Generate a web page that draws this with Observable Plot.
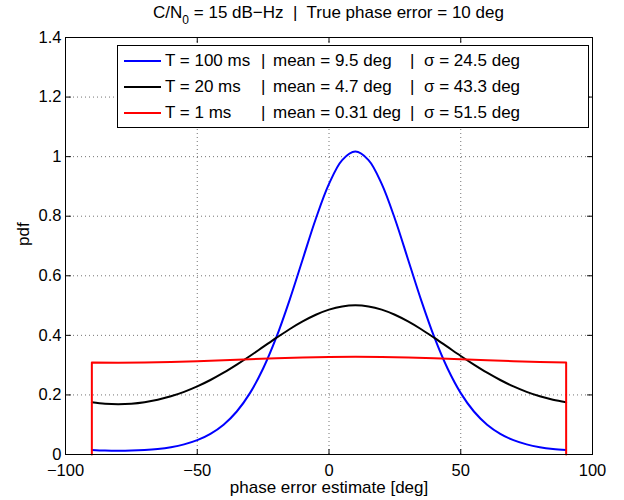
<!DOCTYPE html>
<html><head><meta charset="utf-8">
<script src="https://cdn.jsdelivr.net/npm/d3@7"></script>
<script src="https://cdn.jsdelivr.net/npm/@observablehq/plot@0.6"></script>
<style>
html,body{margin:0;padding:0;background:#fff;}
#wrap{position:relative;width:624px;height:500px;font-family:"Liberation Sans",Arial,Helvetica,sans-serif;color:#000;overflow:hidden;}
#chart{position:absolute;left:0;top:0;}
#title{position:absolute;left:65px;width:527px;top:3px;text-align:center;font-size:17px;line-height:20px;white-space:pre;}
#title .sub{font-size:12px;vertical-align:-6px;}
#legend{position:absolute;left:117px;top:45px;width:472px;height:83px;box-sizing:border-box;border:1px solid #000;background:#fff;font-size:17px;}
.row{position:absolute;left:0;height:26px;line-height:26px;width:100%;white-space:pre;}
.row span{position:absolute;top:0;}
.row svg{position:absolute;top:0;}
</style></head>
<body><div id="wrap"><div id="chart"></div><div id="title"></div><div id="legend"></div></div>
<script>
// ---- data ----
const phase5 = [-90,-85,-80,-75,-70,-65,-60,-55,-50,-45,-40,-35,-30,-25,-20,-15,-10,-5,0,5,10,15,20,25,30,35,40,45,50,55,60,65,70,75,80,85,90];
const pdf100ms = [0.0151,0.0131,0.0125,0.0131,0.0151,0.0187,0.0247,0.0340,0.0481,0.0694,0.1001,0.1444,0.2061,0.2887,0.3930,0.5176,0.6548,0.7914,0.9084,0.9884,1.0169,0.9884,0.9084,0.7914,0.6548,0.5176,0.3930,0.2887,0.2061,0.1444,0.1001,0.0694,0.0481,0.0340,0.0247,0.0187,0.0151];
const pdf20ms = [0.1757,0.1707,0.1691,0.1707,0.1757,0.1839,0.1954,0.2103,0.2286,0.2501,0.2746,0.3018,0.3308,0.3611,0.3914,0.4205,0.4467,0.4691,0.4863,0.4972,0.5009,0.4972,0.4863,0.4691,0.4467,0.4205,0.3914,0.3611,0.3308,0.3018,0.2746,0.2501,0.2286,0.2103,0.1954,0.1839,0.1757];
const phase1ms = [-90,-90,-80,-70,-60,-50,-40,-30,-20,-10,0,10,20,30,40,50,60,70,80,90,90];
const pdf1ms = [0,0.3090,0.3084,0.3090,0.3107,0.3133,0.3165,0.3200,0.3233,0.3260,0.3277,0.3283,0.3277,0.3260,0.3233,0.3200,0.3165,0.3133,0.3107,0.3090,0];
const xTicks = [-100,-50,0,50,100];
const yTicks = [0,0.2,0.4,0.6,0.8,1,1.2,1.4];
const seriesColors = ["#0000ff","#000000","#ff0000"];
const legendT = ["T = 100 ms","T = 20 ms","T = 1 ms"];
const legendMean = ["mean = 9.5 deg","mean = 4.7 deg","mean = 0.31 deg"];
const legendSigma = ["\u03c3 = 24.5 deg","\u03c3 = 43.3 deg","\u03c3 = 51.5 deg"];
const titleMain = "C/N", titleSub = "0", titleRest = " = 15 dB\u2212Hz  |  True phase error = 10 deg";
const xLabel = "phase error estimate [deg]";
const yLabel = "pdf";

// ---- tables ----
const t100 = phase5.map((x,i)=>({x, y: pdf100ms[i]}));
const t20 = phase5.map((x,i)=>({x, y: pdf20ms[i]}));
const t1 = phase1ms.map((x,i)=>({x, y: pdf1ms[i]}));

const FONT = '"Liberation Sans",Arial,Helvetica,sans-serif';
const fmtX = d => d < 0 ? "\u2212" + (-d) : String(d);
const fmtY = d => String(d);
const tickShape = {draw(context, l) { context.moveTo(0, 0); context.lineTo(0, -l); }};
const tickOpts = {length: 5, anchor: "start", shape: tickShape, stroke: "black", strokeWidth: 1};
const gridOpts = {stroke: "#000", strokeOpacity: 0.55, strokeDasharray: "1,3", strokeWidth: 1};

const chart = Plot.plot({
  width: 624, height: 500,
  marginLeft: 65, marginRight: 32, marginTop: 37, marginBottom: 46,
  style: {fontFamily: FONT, fontSize: "16.5px", background: "white", color: "black"},
  x: {domain: [-100, 100]},
  y: {domain: [0, 1.4]},
  marks: [
    Plot.gridX(xTicks, gridOpts),
    Plot.gridY(yTicks, gridOpts),
    Plot.line(t100, {x: "x", y: "y", stroke: seriesColors[0], strokeWidth: 2, curve: "catmull-rom"}),
    Plot.line(t20, {x: "x", y: "y", stroke: seriesColors[1], strokeWidth: 2, curve: "catmull-rom"}),
    Plot.line(t1, {x: "x", y: "y", stroke: seriesColors[2], strokeWidth: 2, curve: "linear"}),
    Plot.frame({stroke: "black", strokeWidth: 1}),
    Plot.vector(xTicks, {x: d => d, frameAnchor: "bottom", rotate: 0, ...tickOpts}),
    Plot.vector(xTicks, {x: d => d, frameAnchor: "top", rotate: 180, ...tickOpts}),
    Plot.vector(yTicks, {y: d => d, frameAnchor: "left", rotate: 90, ...tickOpts}),
    Plot.vector(yTicks, {y: d => d, frameAnchor: "right", rotate: -90, ...tickOpts}),
    Plot.axisX(xTicks, {tickSize: 0, tickPadding: 10, tickFormat: fmtX, label: null, fontSize: 16.5}),
    Plot.axisY(yTicks, {tickSize: 0, tickPadding: 4, tickFormat: fmtY, label: null, fontSize: 16.5}),
    Plot.text([xLabel], {text: d => d, frameAnchor: "bottom", dy: 38, fontSize: 17}),
    Plot.text([yLabel], {text: d => d, frameAnchor: "left", dx: -42, rotate: -90, fontSize: 17})
  ]
});
document.getElementById("chart").appendChild(chart);

// ---- title ----
const title = document.getElementById("title");
title.appendChild(document.createTextNode(titleMain));
const sub = document.createElement("span"); sub.className = "sub"; sub.textContent = titleSub;
title.appendChild(sub);
title.appendChild(document.createTextNode(titleRest));

// ---- legend ----
const legend = document.getElementById("legend");
legendT.forEach((t, i) => {
  const row = document.createElement("div");
  row.className = "row";
  row.style.top = (2 + 26 * i) + "px";
  const ns = "http://www.w3.org/2000/svg";
  const svg = document.createElementNS(ns, "svg");
  svg.setAttribute("width", "37"); svg.setAttribute("height", "26");
  svg.style.left = "6px";
  const ln = document.createElementNS(ns, "line");
  ln.setAttribute("x1", "0"); ln.setAttribute("x2", "37");
  ln.setAttribute("y1", "13"); ln.setAttribute("y2", "13");
  ln.setAttribute("stroke", seriesColors[i]); ln.setAttribute("stroke-width", "2");
  svg.appendChild(ln); row.appendChild(svg);
  const parts = [[t, 47], ["|", 143], [legendMean[i], 155], ["|", 292], [legendSigma[i], 306]];
  parts.forEach(([s, left]) => {
    const sp = document.createElement("span");
    sp.textContent = s; sp.style.left = left + "px";
    row.appendChild(sp);
  });
  legend.appendChild(row);
});
</script>
</body></html>
